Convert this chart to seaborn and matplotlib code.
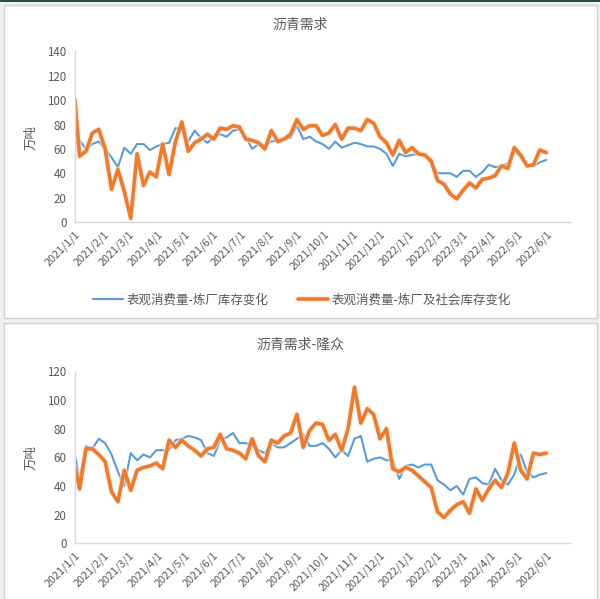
import numpy as np
import pandas as pd
import matplotlib
matplotlib.use("Agg")
import matplotlib.pyplot as plt
import matplotlib.dates as mdates
import matplotlib.patheffects as pe
from matplotlib.patches import Rectangle
import seaborn as sns

sns.set_theme(style="white")
plt.rcParams['font.family'] = ['Noto Sans CJK SC', 'DejaVu Sans']

# ---------------- data ----------------
dates = [pd.Timestamp("2021-01-01")] + list(pd.date_range("2021-01-06", "2022-06-01", freq="7D"))

top_refinery = [63, 67, 60, 64, 66, 60, 53, 45, 61, 56, 64, 64, 59, 62, 64, 65, 77, 76, 66, 75,
                69, 65, 70, 72, 70, 75, 76, 70, 60, 64, 63, 66, 67, 68, 69, 79, 68, 70, 66, 64,
                60, 66, 61, 63, 65, 64, 62, 62, 60, 56, 46, 56, 54, 55, 56, 54, 49, 40, 40, 40,
                37, 42, 42, 37, 41, 47, 45, 46, 48, 59, 53, 46, 46, 49, 51]
top_social = [100, 54, 58, 73, 76, 60, 27, 43, 25, 3, 56, 30, 41, 37, 64, 39, 66, 82, 58, 65,
              68, 72, 68, 77, 76, 79, 78, 68, 67, 65, 60, 75, 66, 68, 72, 84, 76, 79, 79, 71,
              73, 80, 68, 77, 77, 75, 84, 81, 70, 65, 55, 67, 57, 61, 56, 55, 50, 34, 31, 23,
              19, 26, 32, 28, 35, 36, 38, 46, 44, 61, 55, 46, 47, 59, 57]
bot_refinery = [61, 45, 68, 66, 73, 70, 62, 50, 40, 63, 58, 62, 60, 65, 65, 65, 72, 73, 75, 74,
                72, 63, 61, 72, 74, 77, 70, 70, 68, 65, 63, 70, 67, 67, 70, 73, 76, 68, 68, 70,
                66, 60, 65, 61, 73, 75, 57, 59, 60, 58, 58, 45, 54, 55, 53, 55, 55, 44, 41, 37,
                40, 34, 45, 46, 42, 41, 52, 44, 41, 48, 62, 50, 46, 48, 49]
bot_social = [53, 38, 66, 66, 62, 57, 36, 29, 51, 37, 51, 53, 54, 56, 52, 72, 67, 72, 68, 65,
              61, 66, 67, 76, 66, 65, 63, 59, 73, 61, 57, 72, 70, 75, 77, 90, 67, 79, 84, 83,
              72, 76, 65, 80, 109, 84, 94, 90, 73, 80, 52, 50, 53, 51, 47, 43, 39, 22, 18, 23,
              27, 29, 21, 38, 30, 38, 44, 39, 49, 70, 51, 45, 63, 62, 63]

series_names = ["表观消费量-炼厂库存变化", "表观消费量-炼厂及社会库存变化"]
titles = ["沥青需求", "沥青需求-隆众"]
y_label = "万吨"
y_ticks = [[0, 20, 40, 60, 80, 100, 120, 140], [0, 20, 40, 60, 80, 100, 120]]

BLUE = "#5B9BD5"
ORANGE = "#E97C30"
TXT = "#595959"

W, H = 600, 599
fig = plt.figure(figsize=(W / 100, H / 100), dpi=100)
fig.patch.set_facecolor("#f0f0f0")

def fx(px):
    return px / W

def fy(py):
    return 1 - py / H

# dark strip at top
fig.patches.append(Rectangle((0, fy(2)), 1, 2 / H, transform=fig.transFigure,
                             facecolor="#2e4a4f", edgecolor="none", zorder=-10))
# panel frames
for (y0, y1) in [(5, 318), (323, 612)]:
    fig.patches.append(Rectangle((fx(4), fy(y1)), fx(597) - fx(4), (y1 - y0) / H,
                                 transform=fig.transFigure, facecolor="white",
                                 edgecolor="#d0d0d0", linewidth=1.0, zorder=-10))

panels = [
    dict(data=(top_refinery, top_social), ytop=51.4, ybot=222.0, ymax=140, title_y=25, ticks=y_ticks[0], ylab_y=137),
    dict(data=(bot_refinery, bot_social), ytop=371.5, ybot=543.3, ymax=120, title_y=345, ticks=y_ticks[1], ylab_y=457),
]

xmin = pd.Timestamp("2021-01-01")
xmax = pd.Timestamp("2022-06-27")
month_ticks = list(pd.date_range("2021-01-01", "2022-06-01", freq="MS"))
month_labels = [f"{d.year}/{d.month}/1" for d in month_ticks]

for k, p in enumerate(panels):
    ax = fig.add_axes([fx(75), fy(p["ybot"]), fx(570) - fx(75), (p["ybot"] - p["ytop"]) / H])
    ax.set_zorder(5)
    ax.set_facecolor("none")
    df = pd.DataFrame({"date": dates, "a": p["data"][0], "b": p["data"][1]})
    sns.lineplot(data=df, x="date", y="a", ax=ax, color=BLUE, linewidth=1.5, legend=False)
    sns.lineplot(data=df, x="date", y="b", ax=ax, color=ORANGE, linewidth=2.6, legend=False)
    ax.lines[1].set_path_effects([pe.Stroke(linewidth=4.6, foreground="#fbe3d2", alpha=0.6), pe.Normal()])
    ax.set_xlim(xmin, xmax)
    ax.set_ylim(0, p["ymax"])
    ax.set_yticks(p["ticks"])
    ax.set_yticklabels([str(t) for t in p["ticks"]], fontsize=8.3, color=TXT)
    ax.set_xticks(month_ticks)
    ax.set_xticklabels(month_labels, rotation=45, ha="right", rotation_mode="anchor", fontsize=7.8, color=TXT)
    ax.tick_params(axis="x", length=3, width=0.8, color="#d0d0d0", pad=2)
    ax.tick_params(axis="y", length=0, pad=6)
    ax.set_xlabel("")
    ax.set_ylabel("")
    for s in ["top", "right"]:
        ax.spines[s].set_visible(False)
    for s in ["left", "bottom"]:
        ax.spines[s].set_color("#d9d9d9")
        ax.spines[s].set_linewidth(1.0)
    ax.grid(False)
    fig.text(fx(300), fy(p["title_y"]), titles[k], ha="center", va="center", fontsize=10, color=TXT)
    fig.text(fx(31), fy(p["ylab_y"]), y_label, ha="center", va="center", rotation=90, fontsize=9, color=TXT)
    if k == 0:
        handles = [ax.lines[0], ax.lines[1]]
        fig.legend(handles, series_names, loc="center", bbox_to_anchor=(fx(302), fy(300)),
                   ncol=2, frameon=False, fontsize=9, handlelength=2.4, columnspacing=2.4,
                   labelcolor=TXT, handletextpad=0.3)

fig.savefig("out.png", dpi=100, facecolor=fig.get_facecolor())
